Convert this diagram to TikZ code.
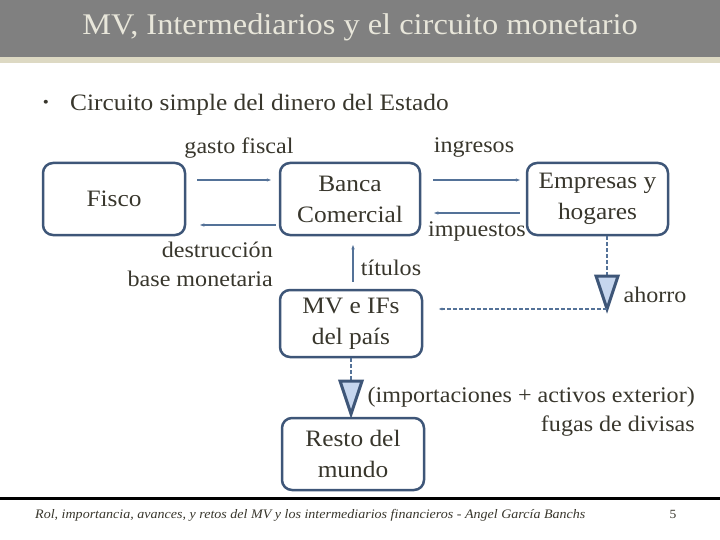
\documentclass[tikz,border=0pt]{standalone}
\usepackage{fontspec}
\setmainfont{Liberation Serif}[FakeStretch=1.08]
\usetikzlibrary{arrows.meta, calc, positioning}
\definecolor{titlegray}{RGB}{128,128,128}
\definecolor{titletext}{RGB}{232,230,218}
\definecolor{stripe}{RGB}{221,217,195}
\definecolor{bodytext}{RGB}{56,54,44}
\definecolor{boxblue}{RGB}{62,86,120}
\definecolor{flowblue}{RGB}{84,114,152}
\definecolor{valvefill}{RGB}{198,214,238}

\tikzset{
  entity/.style={draw=boxblue, line width=2.5pt, rounded corners=10pt, minimum width=142pt, minimum height=72pt, align=center, text=bodytext, font=\fontsize{23.5}{31}\selectfont, inner sep=0pt},
  flow/.style={draw=flowblue, line width=1.1pt, -{Latex[length=5pt,width=3.5pt]}},
  leak/.style={draw=flowblue, line width=1.1pt, dash pattern=on 4pt off 2pt},
  lbl/.style={text=bodytext, font=\fontsize{22.3}{28.5}\selectfont, inner sep=0pt},
  valve/.style={draw=boxblue, fill=valvefill, line width=3pt, line join=miter},
}

\begin{document}
\begin{tikzpicture}[x=1pt, y=-1pt]
  \useasboundingbox (0,0) rectangle (720,540);

  % header and footer
  \fill[titlegray] (0,0) rectangle (720,57);
  \fill[stripe] (0,57) rectangle (720,63);
  \node[text=titletext, font=\fontsize{30}{34}\selectfont] (title) at (360,27) {MV, Intermediarios y el circuito monetario};
  \node[text=bodytext, font=\fontsize{16}{20}\selectfont] (bullet) at (46,104) {•};
  \node[text=bodytext, font=\fontsize{23.5}{28}\selectfont, anchor=west, inner sep=0pt] (subtitle) at (70,105) {Circuito simple del dinero del Estado};
  \draw[line width=3pt] (0,498) -- (720,498);
  \node[text=bodytext, font=\itshape\fontsize{13}{15}\selectfont, anchor=west, inner sep=0pt] (footer) at (35,515) {Rol, importancia, avances, y retos del MV y los intermediarios financieros - Angel García Banchs};
  \node[text=bodytext, font=\fontsize{12.5}{14}\selectfont] (page) at (673,514) {5};

  % sectores
  \node[entity] (fisco) at (114,199) {Fisco};
  \node[entity, minimum width=140pt] (banca) at (350,199) {Banca\\Comercial};
  \node[entity, minimum width=141pt] (emp) at (597.5,199) {Empresas y\\hogares};
  \node[entity, minimum height=67pt] (mv) at (351,323.5) {MV e IFs\\del país};
  \node[entity] (resto) at (353,454) {Resto del\\mundo};

  % flujos
  \draw[flow] ($(fisco.east)+(11,-19)$) -- ($(banca.west)+(-7,-19)$);
  \draw[flow] ($(banca.west)+(-3,26)$) -- ($(fisco.east)+(13,26)$);
  \draw[flow] ($(banca.east)+(12,-19)$) -- ($(emp.west)+(-5,-19)$);
  \draw[flow] ($(emp.west)+(-6,14)$) -- ($(banca.east)+(12,14)$);
  \draw[flow] ($(mv.north)+(2,-7)$) -- ($(banca.south)+(3,8)$);

  \node[lbl] (gasto) at (239,148) {gasto fiscal};
  \node[lbl] (ingresos) at (474,148) {ingresos};
  \node[lbl, align=right, anchor=north east] (destr) at (273,242) {destrucción\\base monetaria};
  \node[lbl] (impuestos) at (477,231) {impuestos};
  \node[lbl] (titulos) at (391,268) {títulos};

  % fugas
  \coordinate (ahorrotop) at (607,276);
  \draw[leak] ($(emp.south)+(9.5,0)$) -- (ahorrotop);
  \draw[valve] (ahorrotop) ++(-11,0) -- ++(22,0) -- ++(-11,33) coordinate (ahorrotip) -- cycle;
  \draw[leak, -{Latex[length=4pt,width=3pt]}] (ahorrotip) -- ($(ahorrotip -| mv.east)+(15,0)$);
  \node[lbl] (ahorro) at (655,295) {ahorro};

  \coordinate (fugatop) at (351,381);
  \draw[leak] (mv.south) -- (fugatop);
  \draw[valve] (fugatop) ++(-11,0) -- ++(22,0) -- ++(-11,33) coordinate (fugatip) -- cycle;
  \node[lbl, align=right, anchor=north east] (fugas) at (695,387) {(importaciones + activos exterior)\\fugas de divisas};
\end{tikzpicture}
\end{document}
